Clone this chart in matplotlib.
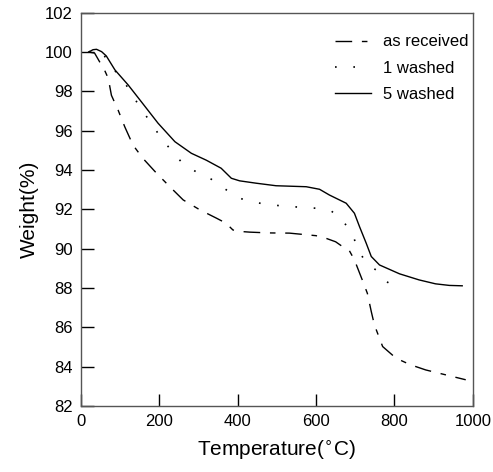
import matplotlib
matplotlib.use('Agg')
import matplotlib.pyplot as plt

plt.rcParams['font.family'] = ['Liberation Sans', 'DejaVu Sans']

# TGA curves
t_received = [20, 35, 48, 60, 70, 78, 95, 112, 133, 158, 193, 227, 261, 304, 346,
              370, 388, 410, 431, 480, 532, 600, 625, 650, 668, 685, 698, 718, 731,
              741, 749, 770, 804, 840, 880, 931, 982]
w_received = [100.0, 99.95, 99.5, 99.1, 98.66, 97.8, 97.05, 96.2, 95.27, 94.6, 93.84,
              93.15, 92.48, 91.97, 91.55, 91.3, 90.95, 90.87, 90.84, 90.8, 90.79,
              90.66, 90.53, 90.35, 90.1, 89.9, 89.43, 88.41, 87.73, 86.8, 86.12,
              85.02, 84.43, 84.1, 83.83, 83.58, 83.33]

t_1washed = [20, 31, 53, 87, 112, 138, 175, 210, 256, 293, 333, 369, 400, 433, 473,
             514, 565, 605, 640, 670, 695, 712, 730, 753, 775, 804, 822]
w_1washed = [100.0, 100.1, 100.0, 99.05, 98.44, 97.6, 96.5, 95.49, 94.42, 93.92,
             93.53, 93.02, 92.6, 92.39, 92.26, 92.17, 92.1, 92.05, 91.9, 91.4,
             90.6, 89.8, 89.2, 88.92, 88.38, 88.04, 87.9]

t_5washed = [20, 31, 40, 53, 65, 87, 121, 154, 197, 240, 282, 320, 358, 384, 405,
             447, 498, 575, 609, 634, 677, 698, 711, 728, 741, 762, 813, 863, 905,
             940, 973]
w_5washed = [100.0, 100.12, 100.14, 100.02, 99.8, 99.09, 98.32, 97.48, 96.38, 95.44,
             94.85, 94.5, 94.09, 93.58, 93.45, 93.33, 93.2, 93.15, 93.02, 92.73,
             92.31, 91.8, 91.12, 90.28, 89.6, 89.17, 88.72, 88.41, 88.21, 88.13,
             88.11]

fig = plt.figure(figsize=(4.93, 4.72), dpi=100)
ax = fig.add_axes([0.164, 0.140, 0.795, 0.833])

ax.plot(t_received, w_received, color='black', lw=1.0,
        linestyle=(0, (12, 7, 4, 7)), label='as received')
ax.plot(t_1washed, w_1washed, color='black', lw=1.2,
        linestyle=(0, (1, 10)), label='1 washed')
ax.plot(t_5washed, w_5washed, color='black', lw=1.0,
        linestyle='-', label='5 washed')

ax.set_xlim(0, 1000)
ax.set_ylim(82, 102)
ax.set_xticks(range(0, 1001, 200))
ax.set_yticks(range(82, 103, 2))
ax.tick_params(direction='in', length=9, width=1, labelsize=12,
               top=False, right=False, pad=6)
for s in ax.spines.values():
    s.set_color('#555555')
    s.set_linewidth(1.0)

ax.set_xlabel('Temperature($^{\\circ}$C)', fontsize=15, labelpad=7)
ax.set_ylabel('Weight(%)', fontsize=15, labelpad=4)

ax.legend(loc='upper right', bbox_to_anchor=(1.005, 0.962), frameon=False,
          fontsize=12, handlelength=2.15, handletextpad=0.7,
          borderaxespad=0, labelspacing=0.68)

fig.savefig('out.png', dpi=100)
